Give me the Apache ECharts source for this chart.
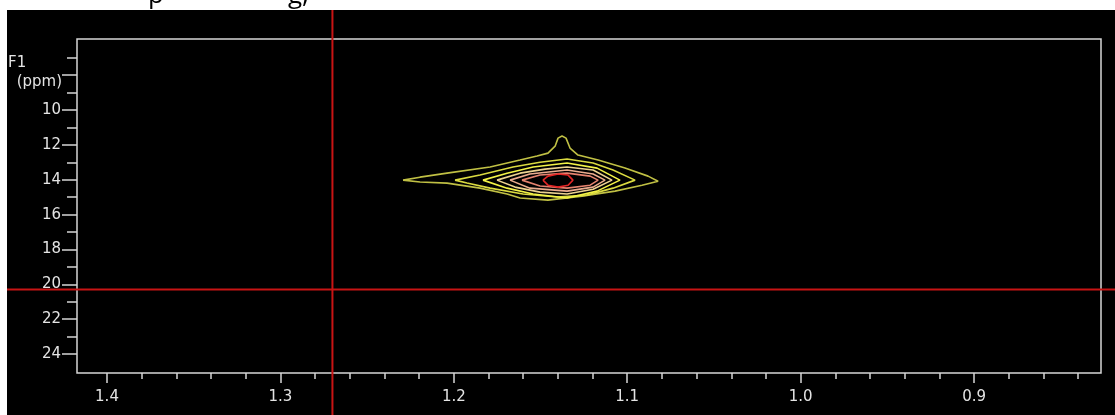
<!DOCTYPE html>
<html>
<head>
<meta charset="utf-8">
<script src="https://cdn.jsdelivr.net/npm/echarts@6/dist/echarts.min.js"></script>
<style>
  html, body { margin: 0; padding: 0; background: #ffffff; }
  #wrap { position: relative; width: 1115px; height: 415px; overflow: hidden; }
  #plate { position: absolute; left: 7px; top: 10px; right: 0; bottom: 0; background: #000000; }
  #chart { position: absolute; left: 0; top: 0; width: 1115px; height: 415px; }
</style>
</head>
<body>
<div id="wrap">
  <div id="plate"></div>
  <div id="chart"></div>
</div>
<script>
// F2 (horizontal) and F1 (vertical) chemical-shift ranges, in ppm
const f2Range = [0.8268, 1.4173];
const f1Range = [5.92, 25.09];

// Tick positions
const f2Major = [0.9, 1.0, 1.1, 1.2, 1.3, 1.4];
const f2Minor = [0.84, 0.86, 0.88, 0.92, 0.94, 0.96, 0.98, 1.02, 1.04, 1.06, 1.08,
                 1.12, 1.14, 1.16, 1.18, 1.22, 1.24, 1.26, 1.28, 1.32, 1.34, 1.36, 1.38];
const f1Major = [8, 10, 12, 14, 16, 18, 20, 22, 24];
const f1Labels = [10, 12, 14, 16, 18, 20, 22, 24];
const f1Minor = [7, 9, 11, 13, 15, 17, 19, 21, 23];

// Cursor crosshair position [F2, F1]
const cursorPos = [1.27, 20.3];

// Contour levels, outermost to innermost: [F2 ppm, F1 ppm] outlines
const contour1 = [[1.2293,14.02],[1.2195,13.85],[1.2039,13.62],[1.1791,13.27],[1.1618,12.87],[1.1520,12.64],
  [1.1457,12.47],[1.1416,12.07],[1.1399,11.61],[1.1376,11.49],[1.1353,11.61],[1.1330,12.18],[1.1284,12.58],
  [1.1168,12.87],[1.1013,13.33],[1.0880,13.79],[1.0822,14.08],[1.0915,14.31],[1.1070,14.65],[1.1261,14.94],
  [1.1457,15.17],[1.1618,15.05],[1.1693,14.82],[1.1849,14.48],[1.2039,14.19],[1.2195,14.13],[1.2293,14.02]];
const contour2 = [[1.1993,14.02],[1.1849,13.73],[1.1659,13.27],[1.1503,12.99],[1.1347,12.81],[1.1197,13.04],
  [1.1082,13.44],[1.0955,14.02],[1.1082,14.48],[1.1232,14.88],[1.1405,14.99],[1.1601,14.82],[1.1791,14.48],
  [1.1924,14.19],[1.1993,14.02]];
const contour3 = [[1.1832,14.02],[1.1693,13.62],[1.1543,13.27],[1.1347,13.04],[1.1174,13.33],[1.1042,14.02],
  [1.1174,14.65],[1.1347,15.05],[1.1543,14.82],[1.1693,14.48],[1.1832,14.02]];
const contour4 = [[1.1751,14.02],[1.1618,13.62],[1.1474,13.39],[1.1347,13.27],[1.1197,13.44],[1.1088,14.02],
  [1.1197,14.54],[1.1347,14.82],[1.1503,14.71],[1.1647,14.42],[1.1751,14.02]];
const contour5 = [[1.1676,14.02],[1.1561,13.67],[1.1347,13.44],[1.1197,13.67],[1.1128,14.02],[1.1197,14.42],
  [1.1347,14.65],[1.1561,14.48],[1.1676,14.02]];
const contour6 = [[1.1607,14.02],[1.1503,13.73],[1.1347,13.62],[1.1214,13.79],[1.1168,14.02],[1.1214,14.31],
  [1.1347,14.48],[1.1503,14.36],[1.1607,14.02]];
const contour7 = [[1.1486,14.02],[1.1457,13.79],[1.1399,13.67],[1.1341,13.73],[1.1313,14.02],[1.1341,14.31],
  [1.1399,14.42],[1.1457,14.31],[1.1486,14.02]];

const contours = [contour1, contour2, contour3, contour4, contour5, contour6, contour7];
const contourColors = ['#c0c044', '#dada40', '#f2f246', '#ecd290', '#eaac8e', '#e4826e', '#e22626'];

const textColor = '#e4e4e4';
const textFont = 'DejaVu Sans';
const labelStyle = { color: textColor, fontFamily: textFont, fontSize: 15 };
const axisColor = '#d6d6d6';

const chart = echarts.init(document.getElementById('chart'), null, { renderer: 'canvas' });

function xAxisCfg(values, len, withLabels) {
  return {
    type: 'value', position: 'bottom', inverse: true,
    min: f2Range[0], max: f2Range[1],
    axisLine: { show: false },
    splitLine: { show: false },
    axisTick: { show: true, customValues: values, length: len, lineStyle: { color: axisColor, width: 1.5 } },
    axisLabel: withLabels ? Object.assign({ show: true, customValues: values, margin: 17,
      formatter: v => v.toFixed(1) }, labelStyle) : { show: false }
  };
}

function yAxisCfg(values, len, labels) {
  return {
    type: 'value', position: 'left', inverse: true,
    min: f1Range[0], max: f1Range[1],
    axisLine: { show: false },
    splitLine: { show: false },
    axisTick: { show: true, customValues: values, length: len, lineStyle: { color: axisColor, width: 1.5 } },
    axisLabel: labels ? Object.assign({ show: true, customValues: labels, margin: 16,
      formatter: v => String(v) }, labelStyle) : { show: false }
  };
}

const option = {
  backgroundColor: 'transparent',
  animation: false,
  grid: {
    left: 77, top: 39, right: 14, bottom: 42,
    show: true, borderColor: axisColor, borderWidth: 1.5, backgroundColor: 'transparent'
  },
  xAxis: [xAxisCfg(f2Major, 10, true), xAxisCfg(f2Minor, 6, false)],
  yAxis: [yAxisCfg(f1Major, 15, f1Labels), yAxisCfg(f1Minor, 10, null)],
  series: contours.map((pts, i) => ({
    type: 'line',
    xAxisIndex: 0, yAxisIndex: 0,
    data: pts,
    showSymbol: false,
    smooth: false,
    lineStyle: { color: contourColors[i], width: 1.6 },
    silent: true
  }))
};

chart.setOption(option);

// Crosshair through the cursor position, spanning the whole black plate
const c = chart.convertToPixel({ xAxisIndex: 0, yAxisIndex: 0 }, cursorPos);
chart.setOption({
  graphic: [
    { type: 'text', x: 8, y: 63,
      style: { text: 'F1', fill: textColor, font: '15px "DejaVu Sans"', textVerticalAlign: 'middle' } },
    { type: 'text', x: 62, y: 82,
      style: { text: '(ppm)', fill: textColor, font: '15px "DejaVu Sans"', textAlign: 'right', textVerticalAlign: 'middle' } },
    { type: 'line', z: 100, shape: { x1: c[0], y1: 10, x2: c[0], y2: 415 },
      style: { stroke: '#c81414', lineWidth: 2 } },
    { type: 'line', z: 100, shape: { x1: 7, y1: c[1], x2: 1115, y2: c[1] },
      style: { stroke: '#c81414', lineWidth: 2 } },
    { type: 'text', x: 148, y: 9, style: { text: 'p', fill: '#000', font: '26px "Open Sans"', textVerticalAlign: 'bottom' } },
    { type: 'text', x: 288, y: 9, style: { text: 'g,', fill: '#000', font: '26px "Open Sans"', textVerticalAlign: 'bottom' } }
  ]
});
</script>
</body>
</html>
